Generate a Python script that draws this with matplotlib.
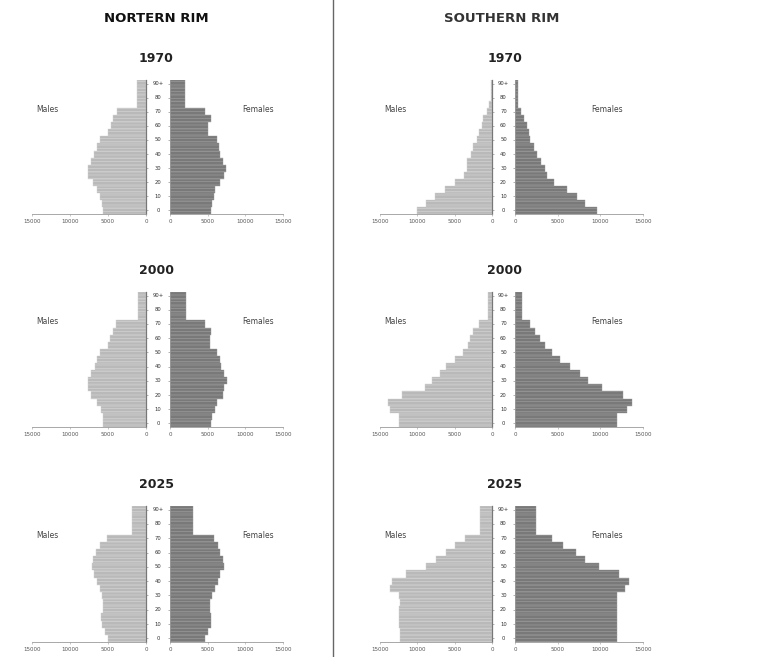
import matplotlib
matplotlib.use("Agg")
import matplotlib.pyplot as plt
from matplotlib.transforms import blended_transform_factory
from matplotlib.lines import Line2D

# age groups 0-4 ... 85-89, 90+
age_groups = list(range(19))
age_ticks = [0, 2, 4, 6, 8, 10, 12, 14, 16, 18]
age_labels = ["0", "10", "20", "30", "40", "50", "60", "70", "80", "90+"]

male_ticks = [15000, 10000, 5000, 0]
female_ticks = [0, 5000, 10000, 15000]

north_1970_m = [5600, 5800, 6000, 6400, 7000, 7600, 7600, 7300, 6800, 6500,
                6000, 5000, 4600, 4300, 3800, 1200, 1200, 1200, 1200]
north_1970_f = [5400, 5600, 5800, 6000, 6700, 7200, 7400, 7100, 6700, 6500,
                6200, 5100, 5100, 5400, 4700, 2000, 2000, 2000, 2000]
north_2000_m = [5600, 5700, 5900, 6400, 7200, 7600, 7600, 7200, 6700, 6400,
                6000, 5000, 4800, 4400, 3900, 1100, 1100, 1100, 1100]
north_2000_f = [5400, 5600, 6000, 6300, 7000, 7200, 7500, 7200, 6800, 6600,
                6300, 5300, 5300, 5500, 4700, 2100, 2100, 2100, 2100]
north_2025_m = [5000, 5400, 5800, 5900, 5600, 5600, 5800, 6000, 6500, 6800,
                7100, 7000, 6600, 6000, 5100, 1900, 1900, 1900, 1900]
north_2025_f = [4700, 5100, 5400, 5500, 5300, 5300, 5600, 6000, 6400, 6700,
                7200, 7000, 6700, 6400, 5800, 3100, 3100, 3100, 3100]

south_1970_m = [10100, 8800, 7600, 6300, 5000, 3800, 3400, 3300, 2800, 2500,
                2000, 1700, 1400, 1200, 700, 400, 200, 200, 200]
south_1970_f = [9600, 8200, 7300, 6100, 4600, 3700, 3500, 3100, 2600, 2200,
                1800, 1600, 1400, 1100, 700, 400, 300, 300, 300]
south_2000_m = [12400, 12400, 13700, 13900, 12000, 9000, 8100, 7000, 6200, 5000,
                3900, 3200, 2900, 2600, 1800, 600, 600, 600, 600]
south_2000_f = [12000, 12000, 13100, 13700, 12600, 10200, 8500, 7600, 6500, 5300,
                4300, 3500, 2900, 2300, 1700, 800, 800, 800, 800]
south_2025_m = [12300, 12300, 12400, 12500, 12400, 12300, 12400, 13600, 13400, 11500,
                8800, 7500, 6200, 5000, 3600, 1600, 1600, 1600, 1600]
south_2025_f = [11900, 11900, 11900, 12000, 11900, 11900, 12000, 12900, 13400, 12200,
                9800, 8200, 7100, 5600, 4300, 2500, 2500, 2500, 2500]

years = ["1970", "2000", "2025"]

W, H = 763, 657
plt.rcParams["hatch.linewidth"] = 0.5
fig = plt.figure(figsize=(W / 100, H / 100), dpi=100)

MC, MH = "#b9b9b9", "#d2d2d2"
FC, FH = "#797979", "#9a9a9a"
SP = "#9a9a9a"


def px_axes(x0, x1, ytop, ybot):
    return fig.add_axes([x0 / W, 1 - ybot / H, (x1 - x0) / W, (ybot - ytop) / H])


def pyramid(xm0, xm1, xf0, xf1, ytop, ybot, males, females):
    axm = px_axes(xm0, xm1, ytop, ybot)
    axf = px_axes(xf0, xf1, ytop, ybot)
    axm.barh(age_groups, males, height=1.0, color=MC, edgecolor=MH,
             linewidth=0.3, hatch="-----")
    axf.barh(age_groups, females, height=1.0, color=FC, edgecolor=FH,
             linewidth=0.3, hatch="-----")
    axm.set_xlim(15000, 0)
    axf.set_xlim(0, 15000)
    for ax, ticks in ((axm, male_ticks), (axf, female_ticks)):
        ax.set_ylim(-0.5, 18.5)
        ax.set_xticks(ticks)
        ax.set_xticklabels([str(t) for t in ticks], fontsize=4, color="#555")
        ax.tick_params(axis="x", length=1.5, width=0.4, color=SP, pad=2)
        for s in ax.spines.values():
            s.set_color(SP)
            s.set_linewidth(0.6)
        ax.spines["top"].set_visible(False)
        ax.set_yticks(age_ticks)
        ax.set_yticklabels([])
        ax.tick_params(axis="y", length=1.5, width=0.4, color="#777")
    axm.spines["left"].set_visible(False)
    axm.spines["right"].set_color("#777")
    axm.spines["right"].set_linewidth(0.9)
    axm.yaxis.tick_right()
    axf.spines["right"].set_visible(False)
    gap = (xf0 - xm1) / 2.0
    tr = blended_transform_factory(axm.transAxes, axm.transData)
    for k, lab in zip(age_ticks, age_labels):
        axm.text(1 + gap / (xm1 - xm0), k, lab, transform=tr, fontsize=3.8,
                 ha="center", va="center", color="#333", clip_on=False)
    return axm, axf


rows = [(80, 214, 58), (292, 427, 270), (506, 642, 484)]
north = [(north_1970_m, north_1970_f), (north_2000_m, north_2000_f),
         (north_2025_m, north_2025_f)]
south = [(south_1970_m, south_1970_f), (south_2000_m, south_2000_f),
         (south_2025_m, south_2025_f)]

for (ytop, ybot, yt), yr, (nm, nf), (sm, sf) in zip(rows, years, north, south):
    pyramid(32, 146, 170, 283, ytop, ybot, nm, nf)
    pyramid(380, 492, 515, 643, ytop, ybot, sm, sf)
    fig.text(156 / W, 1 - yt / H, yr, fontsize=9, fontweight="bold",
             ha="center", va="center", color="#222")
    fig.text(505 / W, 1 - yt / H, yr, fontsize=9, fontweight="bold",
             ha="center", va="center", color="#222")
    ym = 1 - (ytop + 30) / H
    fig.text(47 / W, ym, "Males", fontsize=5.5, ha="center", va="center", color="#444")
    fig.text(258 / W, ym, "Females", fontsize=5.5, ha="center", va="center", color="#444")
    fig.text(395 / W, ym, "Males", fontsize=5.5, ha="center", va="center", color="#444")
    fig.text(607 / W, ym, "Females", fontsize=5.5, ha="center", va="center", color="#444")

fig.text(156 / W, 1 - 18 / H, "NORTERN RIM", fontsize=9.5, fontweight="heavy",
         ha="center", va="center", color="#111")
fig.text(502 / W, 1 - 18 / H, "SOUTHERN RIM", fontsize=9.5, fontweight="bold",
         ha="center", va="center", color="#333")

fig.add_artist(Line2D([333 / W, 333 / W], [0, 1], color="#666", linewidth=1.0))

fig.savefig("out.png", dpi=100)
